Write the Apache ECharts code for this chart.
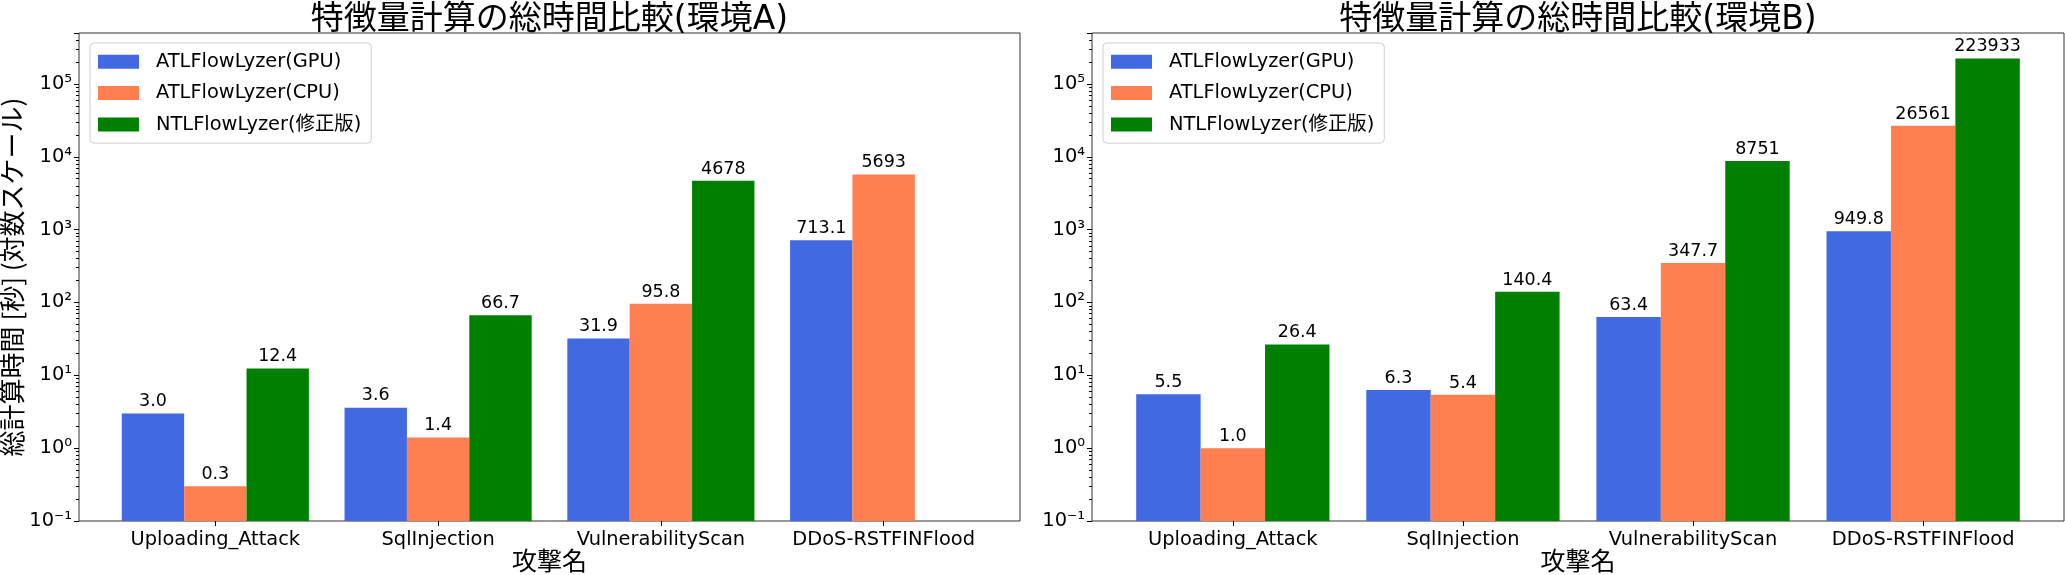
<!DOCTYPE html>
<html>
<head>
<meta charset="utf-8">
<script src="https://cdn.jsdelivr.net/npm/echarts@6/dist/echarts.min.js"></script>
<style>
  html, body { margin: 0; padding: 0; background: #fff; }
  #chart { width: 2065px; height: 575px; }
</style>
</head>
<body>
<div id="chart"></div>
<script>
// data
var categories = ['Uploading_Attack', 'SqlInjection', 'VulnerabilityScan', 'DDoS-RSTFINFlood'];
var seriesNames = ['ATLFlowLyzer(GPU)', 'ATLFlowLyzer(CPU)', 'NTLFlowLyzer(修正版)'];
var envA_gpu = [3.0, 3.6, 31.9, 713.1];
var envA_cpu = [0.3, 1.4, 95.8, 5693];
var envA_ntl = [12.4, 66.7, 4678, null];
var envB_gpu = [5.5, 6.3, 63.4, 949.8];
var envB_cpu = [1.0, 5.4, 347.7, 26561];
var envB_ntl = [26.4, 140.4, 8751, 223933];
var titles = ['特徴量計算の総時間比較(環境A)', '特徴量計算の総時間比較(環境B)'];
var yMin = 0.1, yMax = 500000;

var colors = ['#4169E1', '#FF7F50', '#008000'];
var latin = '"DejaVu Sans", "Noto Sans CJK JP", sans-serif';
var jp = '"Noto Sans CJK JP", sans-serif';
var sup = { '-': '⁻', '0': '⁰', '1': '¹', '2': '²', '3': '³', '4': '⁴', '5': '⁵', '6': '⁶' };

function powLabel(v) {
    var e = Math.log10(v);
    var r = Math.round(e);
    if (Math.abs(e - r) > 1e-6) return '';
    return '10' + String(r).split('').map(function (c) { return sup[c]; }).join('');
}
function barLabel(p) {
    var v = p.value;
    return v >= 1000 ? String(Math.round(v)) : v.toFixed(1);
}

// panel geometry: outer frame and inner band area (matplotlib margins)
var panels = [
    { left: 79, width: 941 },
    { left: 1092, width: 972 }
];
var plotTop = 33, plotH = 488;

var grids = [], xAxes = [], yAxes = [], legends = [], titleOpts = [];
panels.forEach(function (p, i) {
    var unit = p.width / 4.224;
    var innerW = unit * 4;
    p.unit = unit;
    grids.push({ left: p.left, top: plotTop, width: p.width, height: plotH, show: true,
        borderColor: '#333', borderWidth: 1, backgroundColor: 'transparent',
        outerBoundsMode: 'none', containLabel: false });
    grids.push({ left: p.left + (p.width - innerW) / 2, top: plotTop, width: innerW, height: plotH,
        outerBoundsMode: 'none', containLabel: false });
    xAxes.push({ type: 'category', gridIndex: i * 2, data: categories, show: false });
    xAxes.push({
        type: 'category', gridIndex: i * 2 + 1, data: categories,
        axisLine: { show: false },
        axisTick: { show: true, alignWithLabel: true, length: 5, lineStyle: { color: '#000' } },
        axisLabel: { color: '#000', fontSize: 19.4, fontFamily: latin, margin: 9, interval: 0 },
        name: '攻撃名', nameLocation: 'middle', nameGap: 27, nameMoveOverlap: false,
        nameTextStyle: { color: '#000', fontSize: 25, fontFamily: jp }
    });
    yAxes.push({
        type: 'log', gridIndex: i * 2, min: yMin, max: yMax, logBase: 10,
        axisLine: { show: false },
        axisTick: { show: true, length: 5, lineStyle: { color: '#000' } },
        minorTick: { show: true, splitNumber: 9, length: 3, lineStyle: { color: '#000' } },
        splitLine: { show: false },
        axisLabel: { color: '#000', fontSize: 19.4, fontFamily: latin, margin: 7, formatter: powLabel },
        name: i === 0 ? '総計算時間 [秒] (対数スケール)' : '',
        nameLocation: 'middle', nameRotate: 90, nameGap: 54, nameMoveOverlap: false,
        nameTextStyle: { color: '#000', fontSize: 26, fontFamily: jp }
    });
    yAxes.push({ type: 'log', gridIndex: i * 2 + 1, min: yMin, max: yMax, startValue: yMin, show: false,
        splitLine: { show: false } });
    legends.push({
        orient: 'vertical', left: p.left + 11, top: 43, data: seriesNames, icon: 'rect',
        itemWidth: 41, itemHeight: 14, itemGap: 12,
        padding: [9, 10, 9, 8], backgroundColor: '#fff', borderColor: '#d0d0d0',
        borderWidth: 1, borderRadius: 4,
        textStyle: { color: '#000', fontSize: 19.4, fontFamily: latin, padding: [0, 0, 0, 12] }
    });
    titleOpts.push({
        text: titles[i], left: p.left + p.width / 2, top: 4, textAlign: 'center', padding: 0,
        textStyle: { color: '#000', fontSize: 33, fontWeight: 'normal', fontFamily: latin }
    });
});

function makeBar(name, data, panel, idx) {
    return {
        type: 'bar', name: name, data: data,
        xAxisIndex: panel * 2 + 1, yAxisIndex: panel * 2 + 1,
        barWidth: panels[panel].unit * 0.28, barGap: '0%',
        itemStyle: { color: colors[idx] },
        label: { show: true, position: 'top', distance: 3, color: '#000', fontSize: 17.5,
            fontFamily: latin, formatter: barLabel }
    };
}

var chart = echarts.init(document.getElementById('chart'));
chart.setOption({
    animation: false,
    title: titleOpts,
    legend: legends,
    grid: grids,
    xAxis: xAxes,
    yAxis: yAxes,
    series: [
        makeBar(seriesNames[0], envA_gpu, 0, 0),
        makeBar(seriesNames[1], envA_cpu, 0, 1),
        makeBar(seriesNames[2], envA_ntl, 0, 2),
        makeBar(seriesNames[0], envB_gpu, 1, 0),
        makeBar(seriesNames[1], envB_cpu, 1, 1),
        makeBar(seriesNames[2], envB_ntl, 1, 2)
    ]
});
</script>
</body>
</html>
